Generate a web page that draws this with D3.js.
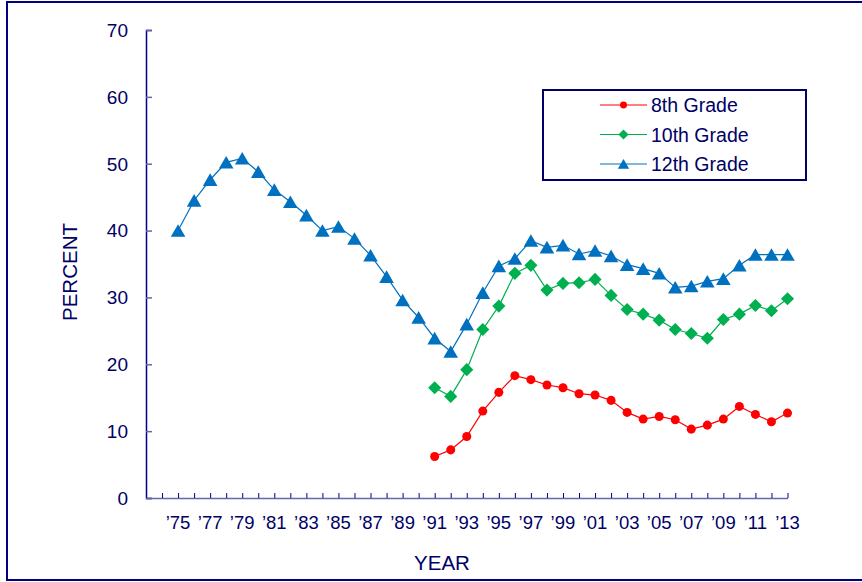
<!DOCTYPE html>
<html lang="en">
<head>
  <meta charset="UTF-8">
  <title>Percent by grade</title>
  <style>
    body { margin: 0; background: #fff; }
    svg text { font-family: Arial, 'Liberation Sans', Helvetica, sans-serif; fill: #000066; }
  </style>
</head>
<body>
<div id="chart"></div>
<script src="https://d3js.org/d3.v7.min.js"></script>
<script>
  // data
  var years12 = d3.range(1975, 2014);
  var years8_10 = d3.range(1991, 2014);
  var grade12 = [40.0, 44.5, 47.6, 50.2, 50.8, 48.8, 46.1, 44.3, 42.3, 40.0,
                 40.6, 38.8, 36.3, 33.1, 29.6, 27.0, 23.9, 21.9, 26.0, 30.7,
                 34.7, 35.8, 38.5, 37.5, 37.8, 36.5, 37.0, 36.2, 34.9, 34.3,
                 33.6, 31.5, 31.7, 32.4, 32.8, 34.8, 36.4, 36.4, 36.4];
  var grade10 = [16.5, 15.2, 19.2, 25.2, 28.7, 33.6, 34.8, 31.1, 32.1, 32.2,
                 32.7, 30.3, 28.2, 27.5, 26.6, 25.2, 24.6, 23.9, 26.7, 27.5,
                 28.8, 28.0, 29.8];
  var grade8 = [6.2, 7.2, 9.2, 13.0, 15.8, 18.3, 17.7, 16.9, 16.5, 15.6,
                15.4, 14.6, 12.8, 11.8, 12.2, 11.7, 10.3, 10.9, 11.8, 13.7,
                12.5, 11.4, 12.7];
  var yTicks = [0, 10, 20, 30, 40, 50, 60, 70];
  var xLabelYears = d3.range(1975, 2014, 2);

  // diamond = square turned 45 degrees; triangle nudged so its box centres on the point
  var series = [
    {name: "8th Grade", years: years8_10, values: grade8, color: "#ff0000", shape: d3.symbolCircle, size: 64, rot: 0, dy: 0},
    {name: "10th Grade", years: years8_10, values: grade10, color: "#00b050", shape: d3.symbolSquare, size: 86, rot: 45, dy: 0},
    {name: "12th Grade", years: years12, values: grade12, color: "#0070c0", shape: d3.symbolTriangle, size: 92, rot: 0, dy: 2}
  ];

  var W = 862, H = 582;
  var axisColor = "#000080";

  var svg = d3.select("#chart").append("svg")
    .attr("width", W).attr("height", H);

  // outer frame
  svg.append("rect")
    .attr("x", 7).attr("y", 2).attr("width", W + 10).attr("height", 578)
    .attr("fill", "none").attr("stroke", "#000080").attr("stroke-width", 2);

  var x = d3.scaleLinear().domain([1973, 2013]).range([146, 787.5]);
  var y = d3.scaleLinear().domain([0, 70]).range([498, 30]);

  // y axis
  var yAxis = svg.append("g")
    .attr("transform", "translate(146,0)")
    .call(d3.axisRight(y).tickValues(yTicks).tickSize(6).tickFormat(""));
  yAxis.select(".domain").attr("stroke", axisColor).attr("stroke-width", 1.5);
  yAxis.selectAll(".tick line").attr("stroke", "#6666aa").attr("stroke-width", 1.5);

  svg.selectAll(".ylab")
    .data(yTicks)
    .join("text")
    .attr("class", "ylab")
    .attr("x", 128)
    .attr("y", d => y(d))
    .attr("dy", "0.36em")
    .attr("text-anchor", "end")
    .style("font-size", "19px")
    .text(d => d);

  // x axis
  var xAxis = svg.append("g")
    .attr("transform", "translate(0,498)")
    .call(d3.axisTop(x).tickValues(d3.range(1974, 2014)).tickSize(5).tickSizeOuter(0).tickFormat(""));
  xAxis.select(".domain").attr("stroke", "#6666aa").attr("stroke-width", 1.5);
  xAxis.selectAll(".tick line").attr("stroke", axisColor);

  svg.selectAll(".xlab")
    .data(xLabelYears)
    .join("text")
    .attr("class", "xlab")
    .attr("x", d => x(d))
    .attr("y", 529)
    .attr("text-anchor", "middle")
    .style("font-size", "18.5px")
    .text(d => "\u2019" + String(d).slice(2));

  // axis titles
  svg.append("text")
    .attr("x", 442).attr("y", 570)
    .attr("text-anchor", "middle")
    .style("font-size", "20.5px")
    .text("YEAR");

  svg.append("text")
    .attr("transform", "translate(77,272) rotate(-90)")
    .attr("text-anchor", "middle")
    .style("font-size", "20.5px")
    .text("PERCENT");

  // lines and markers
  var line = d3.line().x(d => x(d[0])).y(d => y(d[1]));

  series.forEach(function(s) {
    var pts = s.years.map((yr, i) => [yr, s.values[i]]);
    svg.append("path")
      .datum(pts)
      .attr("d", line)
      .attr("fill", "none")
      .attr("stroke", s.color)
      .attr("stroke-width", 1.2);
    svg.append("g").selectAll("path")
      .data(pts)
      .join("path")
      .attr("transform", d => `translate(${x(d[0])},${y(d[1]) + s.dy}) rotate(${s.rot})`)
      .attr("d", d3.symbol().type(s.shape).size(s.size))
      .attr("fill", s.color);
  });

  // legend
  var lg = svg.append("g");
  lg.append("rect")
    .attr("x", 543).attr("y", 90).attr("width", 263).attr("height", 90)
    .attr("fill", "#fff").attr("stroke", "#000066").attr("stroke-width", 2);

  series.forEach(function(s, i) {
    var cy = 105 + i * 29.5;
    lg.append("line")
      .attr("x1", 600).attr("x2", 647).attr("y1", cy).attr("y2", cy)
      .attr("stroke", s.color).attr("stroke-width", 1.2);
    lg.append("path")
      .attr("transform", `translate(623.5,${cy + s.dy * 0.7}) rotate(${s.rot})`)
      .attr("d", d3.symbol().type(s.shape).size(s.size * 0.6))
      .attr("fill", s.color);
    lg.append("text")
      .attr("x", 651).attr("y", cy)
      .attr("dy", "0.36em")
      .style("font-size", "19.5px")
      .text(s.name);
  });
</script>
</body>
</html>
